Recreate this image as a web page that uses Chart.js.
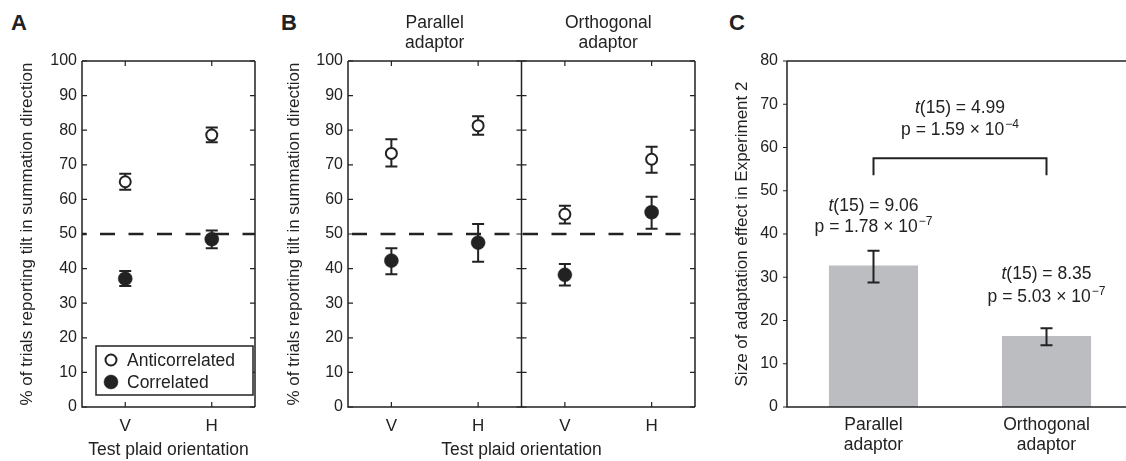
<!DOCTYPE html>
<html>
<head>
<meta charset="utf-8">
<script src="https://cdn.jsdelivr.net/npm/chart.js@4.4.1/dist/chart.umd.min.js"></script>
<style>
html,body{margin:0;padding:0;background:#fff;overflow:hidden;width:1126px;height:461px;}
canvas{position:absolute;top:0;}
.letter{position:absolute;top:12px;font:bold 22px "Liberation Sans",Arial,sans-serif;line-height:22px;color:#222;}
</style>
</head>
<body>
<div class="letter" style="left:11px">A</div>
<div class="letter" style="left:281px">B</div>
<div class="letter" style="left:729px">C</div>
<canvas id="cA" width="270" height="461" style="left:0px"></canvas>
<canvas id="cB" width="440" height="461" style="left:270px"></canvas>
<canvas id="cC" width="440" height="461" style="left:700px"></canvas>
<script>
// ---------------- DATA ----------------
const seriesNames = ['Anticorrelated', 'Correlated'];
const percentTicks = [0, 10, 20, 30, 40, 50, 60, 70, 80, 90, 100];
const effectTicks = [0, 10, 20, 30, 40, 50, 60, 70, 80];
const chanceLevel = 50;

// Panel A
const panelACategories = ['V', 'H'];
const panelAAnti = [65.1, 78.6];
const panelAAntiLow = [62.8, 76.5];
const panelAAntiHigh = [67.4, 80.8];
const panelACorr = [37.1, 48.5];
const panelACorrLow = [35.0, 45.9];
const panelACorrHigh = [39.3, 51.0];

// Panel B (first two: parallel adaptor, last two: orthogonal adaptor)
const panelBCategories = ['V', 'H', 'V', 'H'];
const panelBGroups = [['Parallel', 'adaptor'], ['Orthogonal', 'adaptor']];
const panelBAnti = [73.3, 81.3, 55.7, 71.6];
const panelBAntiLow = [69.5, 78.7, 53.0, 67.7];
const panelBAntiHigh = [77.4, 84.0, 58.2, 75.2];
const panelBCorr = [42.3, 47.5, 38.2, 56.3];
const panelBCorrLow = [38.4, 42.0, 35.1, 51.5];
const panelBCorrHigh = [45.9, 52.9, 41.3, 60.8];

// Panel C
const panelCCategories = [['Parallel', 'adaptor'], ['Orthogonal', 'adaptor']];
const panelCValues = [32.7, 16.4];
const panelCLow = [28.8, 14.3];
const panelCHigh = [36.1, 18.2];
const panelCTStats = ['9.06', '8.35'];
const panelCPStats = ['1.78', '5.03'];
const panelCPExps = ['−7', '−7'];
const panelCDiffStat = ['4.99', '1.59', '−4'];
const panelCBracket = [53.6, 57.5];

// ---------------- RENDERING ----------------
const INK = '#222';
const FAMILY = '"Liberation Sans", Arial, Helvetica, sans-serif';
Chart.defaults.font.family = FAMILY;
Chart.defaults.color = INK;

function fontStr(size, italic) { return (italic ? 'italic ' : '') + size + 'px ' + FAMILY; }

function drawRich(ctx, segs, cx, baseline) {
  let total = 0;
  segs.forEach(s => {
    ctx.font = fontStr(s.sup ? 12 : 17.5, s.italic);
    s.w = ctx.measureText(s.text).width;
    total += s.w + (s.sup ? 1 : 0);
  });
  let x = cx - total / 2;
  ctx.textAlign = 'left';
  ctx.textBaseline = 'alphabetic';
  segs.forEach(s => {
    ctx.font = fontStr(s.sup ? 12 : 17.5, s.italic);
    if (s.sup) x += 1;
    ctx.fillText(s.text, x, baseline - (s.sup ? 7.3 : 0));
    x += s.w;
  });
}
function statSegs(t, p, e) {
  return [
    [{text: 't', italic: true}, {text: '(15) = ' + t}],
    [{text: 'p = ' + p + ' × 10'}, {text: e, sup: true}]
  ];
}

function drawErrors(chart, opts) {
  const {ctx, scales: {y}} = chart;
  ctx.save();
  ctx.strokeStyle = INK;
  ctx.lineWidth = 2;
  const half = opts.capHalf || 6;
  chart.data.datasets.forEach((ds, di) => {
    const meta = chart.getDatasetMeta(di);
    if (!ds.errLow) return;
    meta.data.forEach((el, i) => {
      const x = el.x;
      const y1 = y.getPixelForValue(ds.errLow[i]);
      const y2 = y.getPixelForValue(ds.errHigh[i]);
      ctx.beginPath();
      ctx.moveTo(x, y1); ctx.lineTo(x, y2);
      ctx.moveTo(x - half, y1); ctx.lineTo(x + half, y1);
      ctx.moveTo(x - half, y2); ctx.lineTo(x + half, y2);
      ctx.stroke();
    });
  });
  ctx.restore();
}

const figureDecor = {
  id: 'figureDecor',
  beforeDatasetsDraw(chart, args, opts) {
    const {ctx, chartArea: a, scales: {y}} = chart;
    if (opts.refLine != null) {
      const py = y.getPixelForValue(opts.refLine);
      ctx.save();
      ctx.strokeStyle = INK;
      ctx.lineWidth = 2.5;
      ctx.setLineDash([15, 13.5]);
      ctx.lineDashOffset = opts.dashOffset || 0;
      ctx.beginPath(); ctx.moveTo(a.left, py); ctx.lineTo(a.right, py); ctx.stroke();
      ctx.restore();
    }
    if (opts.errorBelow) drawErrors(chart, opts);
  },
  afterDatasetsDraw(chart, args, opts) {
    if (!opts.errorBelow) drawErrors(chart, opts);
  },
  afterDraw(chart, args, opts) {
    const {ctx, chartArea: a, scales: {x, y}} = chart;
    ctx.save();
    ctx.strokeStyle = INK;
    ctx.lineWidth = 1.5;
    // frame
    ctx.beginPath();
    ctx.moveTo(a.left, a.top); ctx.lineTo(a.left, a.bottom); ctx.lineTo(a.right + (opts.frameRight ? 0 : 20), a.bottom);
    ctx.moveTo(a.left, a.top); ctx.lineTo(a.right + (opts.frameRight ? 0 : 20), a.top);
    if (opts.frameRight) { ctx.moveTo(a.right, a.top); ctx.lineTo(a.right, a.bottom); }
    const dividers = (opts.dividers || []).map(v => x.getPixelForValue(v));
    dividers.forEach(px => { ctx.moveTo(px, a.top); ctx.lineTo(px, a.bottom); });
    ctx.stroke();
    // ticks
    ctx.lineWidth = 1.2;
    ctx.beginPath();
    const T = 5;
    if (opts.innerTicks) {
      y.ticks.forEach(t => {
        const py = y.getPixelForValue(t.value);
        ctx.moveTo(a.left, py); ctx.lineTo(a.left + T, py);
        ctx.moveTo(a.right, py); ctx.lineTo(a.right - T, py);
        dividers.forEach(px => { ctx.moveTo(px - T, py); ctx.lineTo(px + T, py); });
      });
      x.ticks.forEach((t, i) => {
        const px = x.getPixelForValue(i);
        ctx.moveTo(px, a.top); ctx.lineTo(px, a.top + T);
        ctx.moveTo(px, a.bottom); ctx.lineTo(px, a.bottom - T);
      });
    }
    if (opts.outerTicks) {
      y.ticks.forEach(t => {
        const py = y.getPixelForValue(t.value);
        ctx.moveTo(a.left, py); ctx.lineTo(a.left - 4, py);
      });
    }
    ctx.stroke();
    ctx.fillStyle = INK;
    // group titles
    if (opts.groups) {
      ctx.font = fontStr(17.5);
      ctx.textAlign = 'center';
      ctx.textBaseline = 'alphabetic';
      opts.groups.forEach((g, gi) => {
        const cx = x.getPixelForValue(opts.groupCenters[gi]);
        g.forEach((line, li) => ctx.fillText(line, cx, 28 + li * 20));
      });
    }
    // legend
    if (opts.legendBox) {
      const b = {l: a.left + 14, r: a.right - 2, t: 346, btm: 395};
      ctx.lineWidth = 1.5;
      ctx.fillStyle = '#fff';
      ctx.fillRect(b.l, b.t, b.r - b.l, b.btm - b.t);
      ctx.strokeRect(b.l, b.t, b.r - b.l, b.btm - b.t);
      chart.data.datasets.forEach((ds, i) => {
        const cy = 360 + i * 22;
        const mx = b.l + 15;
        ctx.beginPath();
        ctx.arc(mx, cy, ds.pointRadius, 0, Math.PI * 2);
        ctx.fillStyle = ds.pointBackgroundColor;
        ctx.fill();
        ctx.lineWidth = ds.pointBorderWidth;
        ctx.strokeStyle = ds.pointBorderColor;
        ctx.stroke();
        ctx.fillStyle = INK;
        ctx.font = fontStr(17.5);
        ctx.textAlign = 'left';
        ctx.textBaseline = 'middle';
        ctx.fillText(ds.label, b.l + 31, cy + 1);
      });
    }
    // annotations (panel C)
    if (opts.stats) {
      const s = opts.stats;
      ctx.fillStyle = INK;
      s.perBar.forEach((lines, i) => {
        const cx = x.getPixelForValue(i);
        lines.forEach((segs, li) => drawRich(ctx, segs, cx, y.getPixelForValue(s.perBarBaselines[i][li])));
      });
      const x0 = x.getPixelForValue(0), x1 = x.getPixelForValue(1);
      const yTop = y.getPixelForValue(s.bracket[1]);
      const yEnd = y.getPixelForValue(s.bracket[0]);
      ctx.strokeStyle = INK;
      ctx.lineWidth = 2;
      ctx.beginPath();
      ctx.moveTo(x0, yEnd); ctx.lineTo(x0, yTop); ctx.lineTo(x1, yTop); ctx.lineTo(x1, yEnd);
      ctx.stroke();
      s.diff.forEach((segs, li) => drawRich(ctx, segs, (x0 + x1) / 2, y.getPixelForValue(s.diffBaselines[li])));
    }
    ctx.restore();
  }
};

function pointDatasets(anti, antiLo, antiHi, corr, corrLo, corrHi) {
  return [
    {label: seriesNames[0], data: anti, errLow: antiLo, errHigh: antiHi, showLine: false,
     pointRadius: 5.5, pointBorderWidth: 2, pointBackgroundColor: '#fff', pointBorderColor: INK, pointHoverRadius: 5.5},
    {label: seriesNames[1], data: corr, errLow: corrLo, errHigh: corrHi, showLine: false,
     pointRadius: 7, pointBorderWidth: 0.5, pointBackgroundColor: INK, pointBorderColor: INK, pointHoverRadius: 7}
  ];
}

function percentScales(yWidth, titlePad, showYLabels) {
  return {
    x: {
      type: 'category', offset: true,
      grid: {display: false, drawTicks: false}, border: {display: false},
      ticks: {font: {size: 17}, padding: 9, color: INK, maxRotation: 0, autoSkip: false},
      title: {display: true, text: 'Test plaid orientation', font: {size: 17.5}, color: INK, padding: {top: 0, bottom: 0}},
      afterFit(s) { s.height = 54; }
    },
    y: {
      min: 0, max: 100,
      afterBuildTicks(s) { s.ticks = percentTicks.map(v => ({value: v})); },
      grid: {display: false, drawTicks: false}, border: {display: false},
      ticks: {font: {size: 16}, padding: 5, color: INK, display: showYLabels},
      title: {display: true, text: '% of trials reporting tilt in summation direction', font: {size: 17}, color: INK, padding: {top: titlePad, bottom: 0}},
      afterFit(s) { s.width = yWidth; }
    }
  };
}

// Panel A
new Chart(document.getElementById('cA'), {
  type: 'line',
  data: {labels: panelACategories, datasets: pointDatasets(panelAAnti, panelAAntiLow, panelAAntiHigh, panelACorr, panelACorrLow, panelACorrHigh)},
  options: {
    responsive: false, animation: false, events: [],
    layout: {padding: {top: 61, right: 15, bottom: 0, left: 0}},
    plugins: {legend: {display: false}, tooltip: {enabled: false},
      figureDecor: {refLine: chanceLevel, dashOffset: 10.5, errorBelow: true, innerTicks: true, frameRight: true, legendBox: true}},
    scales: percentScales(82, 16.8, true)
  },
  plugins: [figureDecor]
});

// Panel B
new Chart(document.getElementById('cB'), {
  type: 'line',
  data: {labels: panelBCategories, datasets: pointDatasets(panelBAnti, panelBAntiLow, panelBAntiHigh, panelBCorr, panelBCorrLow, panelBCorrHigh)},
  options: {
    responsive: false, animation: false, events: [],
    layout: {padding: {top: 61, right: 15, bottom: 0, left: 0}},
    plugins: {legend: {display: false}, tooltip: {enabled: false},
      figureDecor: {refLine: chanceLevel, dashOffset: 24.5, errorBelow: true, innerTicks: true, frameRight: true,
        dividers: [1.5], groups: panelBGroups, groupCenters: [0.5, 2.5]}},
    scales: percentScales(78, 13.8, true)
  },
  plugins: [figureDecor]
});

// Panel C
new Chart(document.getElementById('cC'), {
  type: 'bar',
  data: {
    labels: panelCCategories,
    datasets: [{label: 'Size of adaptation effect', data: panelCValues, errLow: panelCLow, errHigh: panelCHigh,
      backgroundColor: '#bcbdc0', borderWidth: 0, categoryPercentage: 1, barPercentage: 0.515}]
  },
  options: {
    responsive: false, animation: false, events: [],
    layout: {padding: {top: 61, right: 7, bottom: 0, left: 0}},
    plugins: {legend: {display: false}, tooltip: {enabled: false},
      figureDecor: {errorBelow: false, outerTicks: true, frameRight: false,
        stats: {
          perBar: panelCTStats.map((t, i) => statSegs(t, panelCPStats[i], panelCPExps[i])),
          perBarBaselines: [[45.4, 40.5], [29.6, 24.3]],
          diff: statSegs(panelCDiffStat[0], panelCDiffStat[1], panelCDiffStat[2]),
          diffBaselines: [68.0, 62.9],
          bracket: panelCBracket
        }}},
    scales: {
      x: {
        type: 'category', offset: true,
        grid: {display: false, drawTicks: false}, border: {display: false},
        ticks: {font: {size: 17.5, lineHeight: 1.15}, padding: 8.3, color: INK, maxRotation: 0, autoSkip: false},
        afterFit(s) { s.height = 54; }
      },
      y: {
        min: 0, max: 80,
        afterBuildTicks(s) { s.ticks = effectTicks.map(v => ({value: v})); },
        grid: {display: false, drawTicks: false}, border: {display: false},
        ticks: {font: {size: 16}, padding: 9, color: INK},
        title: {display: true, text: 'Size of adaptation effect in Experiment 2', font: {size: 17}, color: INK, padding: {top: 31.8, bottom: 0}},
        afterFit(s) { s.width = 87; }
      }
    }
  },
  plugins: [figureDecor]
});
</script>
</body>
</html>
